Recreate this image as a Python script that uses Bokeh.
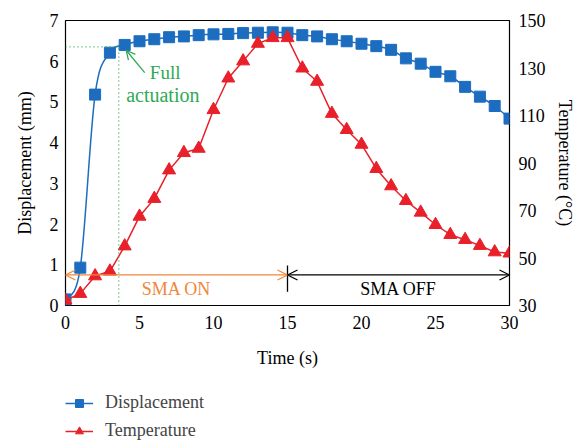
import numpy as np
from bokeh.plotting import figure
from bokeh.layouts import column
from bokeh.models import (Range1d, LinearAxis, Legend, LegendItem, Arrow, OpenHead,
                          ColumnDataSource, Label, FixedTicker)
from bokeh.embed import file_html
from bokeh.resources import INLINE

# ---- data ----
time_s = list(range(0, 31))
displacement_mm = [0.15, 0.93, 5.18, 6.21, 6.40, 6.49, 6.54, 6.59, 6.61, 6.64, 6.66,
                   6.67, 6.69, 6.70, 6.71, 6.70, 6.64, 6.61, 6.54, 6.49, 6.43,
                   6.37, 6.28, 6.07, 5.94, 5.74, 5.63, 5.37, 5.13, 4.90, 4.59]
temperature_c = [32.2, 35.0, 42.4, 44.4, 55.0, 67.5, 75.0, 87.0, 94.3, 96.1, 112.4,
                 125.7, 132.9, 140.3, 142.7, 142.7, 129.9, 124.3, 110.8, 104.0, 97.8,
                 87.6, 80.3, 74.1, 69.2, 64.0, 59.8, 57.7, 55.2, 52.5, 52.0]
x_ticks = [0, 5, 10, 15, 20, 25, 30]
disp_ticks = [0, 1, 2, 3, 4, 5, 6, 7]
temp_ticks = [30, 50, 70, 90, 110, 130, 150]
series_names = ["Displacement", "Temperature"]

# annotation values
full_act_t = 3.6
full_act_d = 6.35
sma_arrow_d = 0.75
sma_switch_t = 15

FONT = "Liberation Serif"
BLUE = "#1c6dbf"
RED = "#e8202a"
ORANGE = "#f0873a"
GREEN = "#2eaa55"

p = figure(width=577, height=370, output_backend="svg", toolbar_location=None,
           x_range=Range1d(0, 30), y_range=Range1d(0, 7),
           min_border_left=65, min_border_right=66, min_border_top=20, min_border_bottom=63)
p.extra_y_ranges = {"temp": Range1d(30, 150)}
p.grid.visible = False
p.outline_line_color = "black"
p.outline_line_width = 1.2
p.background_fill_color = "white"
p.border_fill_color = "white"

def style_axis(ax):
    ax.major_tick_line_color = None
    ax.minor_tick_line_color = None
    ax.major_tick_out = 0
    ax.major_tick_in = 0
    ax.minor_tick_out = 0
    ax.minor_tick_in = 0
    ax.axis_line_color = None
    ax.major_label_text_font = FONT
    ax.major_label_text_font_size = "18px"
    ax.major_label_text_color = "black"
    ax.axis_label_text_font = FONT
    ax.axis_label_text_font_size = "18px"
    ax.axis_label_text_font_style = "normal"
    ax.axis_label_text_color = "black"

p.xaxis.axis_label = "Time (s)"
p.xaxis.ticker = FixedTicker(ticks=x_ticks)
p.yaxis.axis_label = "Displacement (mm)"
p.yaxis.ticker = FixedTicker(ticks=disp_ticks)
style_axis(p.xaxis[0])
style_axis(p.yaxis[0])
p.xaxis.major_label_standoff = 10
p.xaxis.axis_label_standoff = 16
p.yaxis.major_label_standoff = 7
p.yaxis.axis_label_standoff = 12

raxis = LinearAxis(y_range_name="temp", axis_label="Temperature (°C)",
                   ticker=FixedTicker(ticks=temp_ticks))
style_axis(raxis)
raxis.major_label_standoff = 9
raxis.axis_label_standoff = 6
p.add_layout(raxis, "right")

# ---- smoothed displacement curve (Catmull-Rom Bezier through data points) ----
t = np.array(time_s, dtype=float)
d = np.array(displacement_mm, dtype=float)
tp = np.concatenate([[t[0]], t, [t[-1]]])
dp = np.concatenate([[d[0]], d, [d[-1]]])
n = len(t) - 1
bz = ColumnDataSource(dict(
    x0=t[:-1], y0=d[:-1], x1=t[1:], y1=d[1:],
    cx0=tp[1:n+1] + (tp[2:n+2] - tp[0:n]) / 6, cy0=dp[1:n+1] + (dp[2:n+2] - dp[0:n]) / 6,
    cx1=tp[2:n+2] - (tp[3:n+3] - tp[1:n+1]) / 6, cy1=dp[2:n+2] - (dp[3:n+3] - dp[1:n+1]) / 6,
))
p.bezier(x0="x0", y0="y0", x1="x1", y1="y1", cx0="cx0", cy0="cy0",
         cx1="cx1", cy1="cy1", source=bz, line_color=BLUE, line_width=1.5)
p.scatter(time_s, displacement_mm, marker="square", size=11, fill_color=BLUE, line_color=BLUE)

p.line(time_s, temperature_c, y_range_name="temp", line_color=RED, line_width=1.5)
p.scatter(time_s, temperature_c, y_range_name="temp", marker="triangle",
          size=13, fill_color=RED, line_color=RED)

# ---- full actuation annotation ----
p.line([0, full_act_t], [full_act_d, full_act_d], line_color=GREEN, line_dash="1 3", line_width=1.3)
p.line([full_act_t, full_act_t], [0, full_act_d], line_color=GREEN, line_dash="1 3", line_width=1.3)
p.add_layout(Arrow(end=OpenHead(size=9, line_color=GREEN, line_width=1.3),
                   x_start=5.35, y_start=5.72, x_end=4.1, y_end=6.27,
                   line_color=GREEN, line_width=1.3))
p.add_layout(Label(x=5.7, y=5.72, text="Full", text_font=FONT, text_font_size="19px",
                   text_color=GREEN, text_baseline="middle"))
p.add_layout(Label(x=4.1, y=5.17, text="actuation", text_font=FONT, text_font_size="20px",
                   text_color=GREEN, text_baseline="middle"))

# ---- SMA ON / OFF arrows ----
p.add_layout(Arrow(start=OpenHead(size=10, line_color=ORANGE, line_width=1.3),
                   end=OpenHead(size=10, line_color=ORANGE, line_width=1.3),
                   x_start=0, y_start=sma_arrow_d, x_end=sma_switch_t, y_end=sma_arrow_d,
                   line_color=ORANGE, line_width=1.3))
p.add_layout(Arrow(start=OpenHead(size=10, line_color="black", line_width=1.3),
                   end=OpenHead(size=10, line_color="black", line_width=1.3),
                   x_start=sma_switch_t, y_start=sma_arrow_d, x_end=30, y_end=sma_arrow_d,
                   line_color="black", line_width=1.3))
p.line([sma_switch_t, sma_switch_t], [0.34, 0.98], line_color="black", line_width=1.3)
p.add_layout(Label(x=7.5, y=0.4, text="SMA ON", text_font=FONT, text_font_size="18px",
                   text_color=ORANGE, text_align="center", text_baseline="middle"))
p.add_layout(Label(x=22.5, y=0.4, text="SMA OFF", text_font=FONT, text_font_size="18px",
                   text_color="black", text_align="center", text_baseline="middle"))

# ---- legend strip below the chart (series drawn off-view, only their legend swatches show) ----
lg = figure(width=577, height=71, output_backend="svg", toolbar_location=None,
            x_range=Range1d(100, 101), y_range=Range1d(100, 101),
            x_axis_location=None, y_axis_location=None,
            min_border_left=65, min_border_right=66, min_border_top=0, min_border_bottom=0,
            outline_line_color=None)
lg.grid.visible = False
r1l = lg.line(time_s, displacement_mm, line_color=BLUE, line_width=1.5)
r1m = lg.scatter(time_s, displacement_mm, marker="square", size=11, fill_color=BLUE, line_color=BLUE)
r2l = lg.line(time_s, temperature_c, line_color=RED, line_width=1.5)
r2m = lg.scatter(time_s, temperature_c, marker="triangle", size=13, fill_color=RED, line_color=RED)
legend = Legend(items=[LegendItem(label=series_names[0], renderers=[r1l, r1m]),
                       LegendItem(label=series_names[1], renderers=[r2l, r2m])],
                orientation="vertical", location=(0, 0),
                label_text_font=FONT, label_text_font_size="18px",
                border_line_color=None, background_fill_alpha=0,
                glyph_width=28, glyph_height=20, label_height=20, label_standoff=12,
                spacing=7, padding=0, margin=0)
lg.add_layout(legend)

layout = column(p, lg, spacing=0)
open("out.html", "w").write(file_html(layout, INLINE))
